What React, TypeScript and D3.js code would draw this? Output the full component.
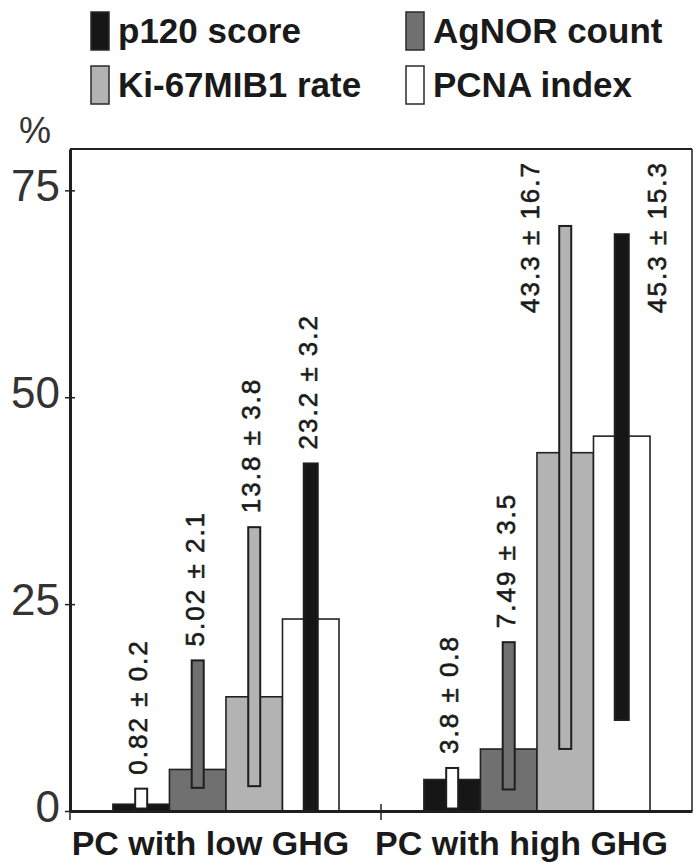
import React, { useEffect, useRef } from 'react';
import * as d3 from 'd3';

// groups on the x axis and the four markers
const groups = ['PC with low GHG', 'PC with high GHG'];
const series = ['p120 score', 'AgNOR count', 'Ki-67MIB1 rate', 'PCNA index'];

// mean values (bar height) and SD, as printed on the labels
const meanLow = [0.82, 5.02, 13.8, 23.2];
const sdLow = [0.2, 2.1, 3.8, 3.2];
const meanHigh = [3.8, 7.49, 43.3, 45.3];
const sdHigh = [0.8, 3.5, 16.7, 15.3];

// the narrow range bars drawn over each bar
const rangeMinLow = [0.3, 2.8, 3.0, 0];
const rangeMaxLow = [2.7, 18.2, 34.3, 42.0];
const rangeMinHigh = [0.3, 2.6, 7.5, 11.0];
const rangeMaxHigh = [5.2, 20.4, 70.7, 69.7];

const yTicks = [0, 25, 50, 75];

const W = 695;
const H = 863;

const barFill = ['#161616', '#707070', '#b3b3b3', '#ffffff'];
const rangeFill = ['#ffffff', '#707070', '#b3b3b3', '#161616'];

const App = () => {
  const ref = useRef<SVGSVGElement>(null);

  useEffect(() => {
    const svg = d3.select(ref.current);
    svg.selectAll('*').remove();

    const left = 70, right = 692, top = 149, bottom = 811;
    const font = '"Liberation Sans", Arial, sans-serif';

    const x0 = d3.scaleBand().domain(groups).range([left, right]);
    const bw = x0.bandwidth();
    const x1 = d3.scaleBand().domain(series).range([bw * 0.138, bw * 0.865]);
    const y = d3.scaleLinear().domain([0, 80]).range([bottom, top]);

    const rows = groups.flatMap((g, gi) =>
      series.map((s, si) => ({
        g, s, si,
        mean: gi === 0 ? meanLow[si] : meanHigh[si],
        sd: gi === 0 ? sdLow[si] : sdHigh[si],
        lo: gi === 0 ? rangeMinLow[si] : rangeMinHigh[si],
        hi: gi === 0 ? rangeMaxLow[si] : rangeMaxHigh[si],
      }))
    );

    // frame: thin top / right
    svg.append('line').attr('x1', left).attr('x2', right).attr('y1', top).attr('y2', top)
      .attr('stroke', '#222').attr('stroke-width', 2);
    svg.append('line').attr('x1', right).attr('x2', right).attr('y1', top).attr('y2', bottom)
      .attr('stroke', '#222').attr('stroke-width', 1.5);

    // bars
    svg.selectAll('.bar').data(rows).enter().append('rect')
      .attr('x', d => x0(d.g)! + x1(d.s)!)
      .attr('y', d => y(d.mean))
      .attr('width', x1.bandwidth())
      .attr('height', d => y(0) - y(d.mean))
      .attr('fill', d => barFill[d.si])
      .attr('stroke', '#222').attr('stroke-width', 1.6);

    // narrow range bars
    svg.selectAll('.rng').data(rows).enter().append('rect')
      .attr('x', d => x0(d.g)! + x1(d.s)! + x1.bandwidth() / 2 - (d.si === 3 ? 7 : 6))
      .attr('y', d => y(d.hi))
      .attr('width', d => (d.si === 3 ? 14 : 12))
      .attr('height', d => y(d.lo) - y(d.hi))
      .attr('fill', d => rangeFill[d.si])
      .attr('stroke', '#1e1e1e').attr('stroke-width', 2);

    // rotated value labels; when there is no room above the range bar,
    // the label hangs from the top of the frame beside the bar
    const labelLen = 155;
    const overflows = d =>
      y(d.hi) - 14 - labelLen * (String(d.mean).length + String(d.sd).length + 3) / 10 < top;
    svg.selectAll('.lab').data(rows).enter().append('text')
      .attr('transform', d => {
        const cx = x0(d.g)! + x1(d.s)! + x1.bandwidth() / 2;
        if (overflows(d)) {
          const dx = d.si === 3 ? 38 : -32;
          return `translate(${cx + dx + 6},${top + 12}) rotate(-90)`;
        }
        return `translate(${cx + 6},${y(d.hi) - 14}) rotate(-90)`;
      })
      .attr('text-anchor', d => (overflows(d) ? 'end' : 'start'))
      .attr('font-family', font)
      .attr('font-size', 26)
      .attr('letter-spacing', 2)
      .attr('fill', '#1a1a1a')
      .attr('stroke', '#1a1a1a').attr('stroke-width', 0.6)
      .text(d => `${d.mean} ± ${d.sd}`);

    // y axis
    const yAxis = svg.append('g').attr('transform', `translate(${left},0)`)
      .call(d3.axisLeft(y).tickValues(yTicks).tickSize(0).tickFormat(() => ''));
    yAxis.select('.domain').attr('stroke', '#1e1e1e').attr('stroke-width', 3);
    yAxis.selectAll('.tick line').attr('x1', -5).attr('x2', 5).attr('stroke', '#222').attr('stroke-width', 1.5);
    yAxis.selectAll('.tick text').remove();

    svg.selectAll('.ylab').data(yTicks).enter().append('text')
      .attr('x', 60).attr('y', d => y(d) + 11)
      .attr('text-anchor', 'end')
      .attr('font-family', font).attr('font-size', 44)
      .attr('fill', '#333')
      .text(d => d);

    svg.append('text').attr('x', 19).attr('y', 143)
      .attr('font-family', font).attr('font-size', 36).attr('fill', '#333').text('%');

    // x axis
    const xAxis = svg.append('g').attr('transform', `translate(0,${bottom})`)
      .call(d3.axisBottom(x0).tickSize(0).tickFormat(() => ''));
    xAxis.select('.domain').attr('stroke', '#1e1e1e').attr('stroke-width', 3);
    xAxis.selectAll('.tick').remove();
    svg.selectAll('.xt').data(groups).enter().append('line')
      .attr('x1', d => x0(d)!).attr('x2', d => x0(d)!)
      .attr('y1', (d, i) => bottom - (i === 0 ? 0 : 7)).attr('y2', bottom + 9)
      .attr('stroke', '#222').attr('stroke-width', 1.5);

    svg.selectAll('.xlab').data(groups).enter().append('text')
      .attr('x', d => x0(d)! + bw / 2 - 15).attr('y', 855)
      .attr('text-anchor', 'middle')
      .attr('font-family', font).attr('font-size', 34).attr('font-weight', 'bold')
      .attr('fill', '#1a1a1a')
      .text(d => d);

    // legend
    const legendX = [91, 406];
    const legendY = [31, 85];
    const leg = svg.selectAll('.leg').data(series).enter().append('g')
      .attr('transform', (d, i) => `translate(${legendX[i % 2]},${legendY[Math.floor(i / 2)]})`);
    leg.append('rect').attr('x', 0).attr('y', -19).attr('width', 18).attr('height', 38)
      .attr('fill', (d, i) => barFill[i]).attr('stroke', '#2a2a2a').attr('stroke-width', 1.5);
    leg.append('text').attr('x', 27).attr('y', 12)
      .attr('font-family', font).attr('font-size', 35).attr('font-weight', 'bold')
      .attr('fill', '#1a1a1a')
      .text(d => d);
  }, []);

  return (
    <svg ref={ref} width={W} height={H}
      style={{ position: 'absolute', left: 0, top: 0, background: '#fff' }} />
  );
};

export default App;
